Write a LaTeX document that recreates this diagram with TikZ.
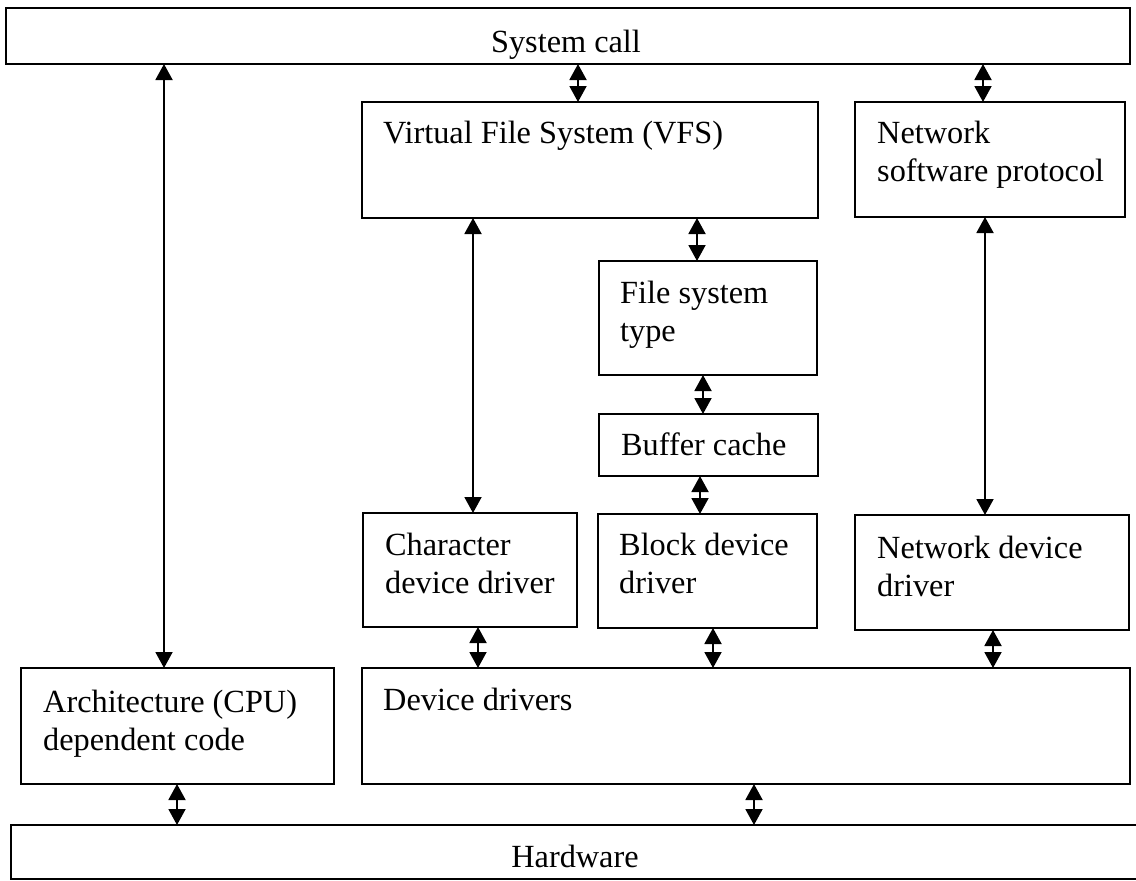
\documentclass[tikz,border=0pt]{standalone}
\usepackage{fontspec}
\setmainfont{Liberation Serif}
\usetikzlibrary{arrows.meta}
% a box given by its corners: name, x1, y1, x2, y2
\newcommand\kbox[5]{\node[box, minimum width={#4-#2}, minimum height={#5-#3}] (#1) at ({(#2+#4)/2},{(#3+#5)/2}) {};}
\begin{document}
\begin{tikzpicture}[x=1pt, y=-1pt,
  box/.style={draw, line width=1.9pt, inner sep=0pt, outer sep=0pt},
  lbl/.style={anchor=base west, inner sep=0pt, font=\fontsize{32.3}{38}\selectfont},
  ctr/.style={anchor=base, inner sep=0pt, font=\fontsize{32.3}{38}\selectfont},
  link/.style={line width=1.9pt, {Triangle[length=16pt,width=17pt]}-{Triangle[length=16pt,width=17pt]}}]
\useasboundingbox (0,0) rectangle (1136,881);

% boxes
\kbox{sc}{6}{8}{1130}{64}
\kbox{vfs}{362}{102}{818}{218}
\kbox{np}{855}{102}{1125}{217}
\kbox{fst}{599}{261}{817}{375}
\kbox{bc}{599}{414}{818}{476}
\kbox{chr}{363}{513}{577}{627}
\kbox{blk}{598}{514}{817}{628}
\kbox{nd}{855}{515}{1129}{630}
\kbox{arch}{21}{668}{334}{784}
\kbox{dd}{362}{668}{1130}{784}
\kbox{hw}{11}{825}{1140}{879}

% labels
\node[ctr] (sc-t) at (566,52) {System call};
\node[ctr] (hw-t) at (575,867) {Hardware};
\node[lbl] (vfs-t) at ([xshift=21pt,yshift=-41pt]vfs.north west) {Virtual File System (VFS)};
\node[lbl] (np-t) at ([xshift=22pt,yshift=-41pt]np.north west) {\begin{tabular}[t]{@{}l@{}}Network\\software protocol\end{tabular}};
\node[lbl] (fst-t) at ([xshift=21pt,yshift=-42pt]fst.north west) {\begin{tabular}[t]{@{}l@{}}File system\\type\end{tabular}};
\node[lbl] (bc-t) at ([xshift=22pt,yshift=-41pt]bc.north west) {Buffer cache};
\node[lbl] (chr-t) at ([xshift=22pt,yshift=-42pt]chr.north west) {\begin{tabular}[t]{@{}l@{}}Character\\device driver\end{tabular}};
\node[lbl] (blk-t) at ([xshift=21pt,yshift=-41pt]blk.north west) {\begin{tabular}[t]{@{}l@{}}Block device\\driver\end{tabular}};
\node[lbl] (nd-t) at ([xshift=22pt,yshift=-43pt]nd.north west) {\begin{tabular}[t]{@{}l@{}}Network device\\driver\end{tabular}};
\node[lbl] (arch-t) at ([xshift=22pt,yshift=-44pt]arch.north west) {\begin{tabular}[t]{@{}l@{}}Architecture (CPU)\\dependent code\end{tabular}};
\node[lbl] (dd-t) at ([xshift=21pt,yshift=-42pt]dd.north west) {Device drivers};

% vertical positions of the connectors
\coordinate (c1) at (164,0);
\coordinate (c2) at (578,0);
\coordinate (c3) at (983,0);
\coordinate (c4) at (473,0);
\coordinate (c5) at (697,0);
\coordinate (c6) at (703,0);
\coordinate (c7) at (700,0);
\coordinate (c8) at (985,0);
\coordinate (c9) at (478,0);
\coordinate (c10) at (713,0);
\coordinate (c11) at (993,0);
\coordinate (c12) at (177,0);
\coordinate (c13) at (754,0);

% connectors
\draw[link] (sc.south -| c1) -- (arch.north -| c1);
\draw[link] (sc.south -| c2) -- (vfs.north -| c2);
\draw[link] (sc.south -| c3) -- (np.north -| c3);
\draw[link] (vfs.south -| c4) -- (chr.north -| c4);
\draw[link] (vfs.south -| c5) -- (fst.north -| c5);
\draw[link] (fst.south -| c6) -- (bc.north -| c6);
\draw[link] (bc.south -| c7) -- (blk.north -| c7);
\draw[link] (np.south -| c8) -- (nd.north -| c8);
\draw[link] (chr.south -| c9) -- (dd.north -| c9);
\draw[link] (blk.south -| c10) -- (dd.north -| c10);
\draw[link] (nd.south -| c11) -- (dd.north -| c11);
\draw[link] (arch.south -| c12) -- (hw.north -| c12);
\draw[link] (dd.south -| c13) -- (hw.north -| c13);
\end{tikzpicture}
\end{document}
